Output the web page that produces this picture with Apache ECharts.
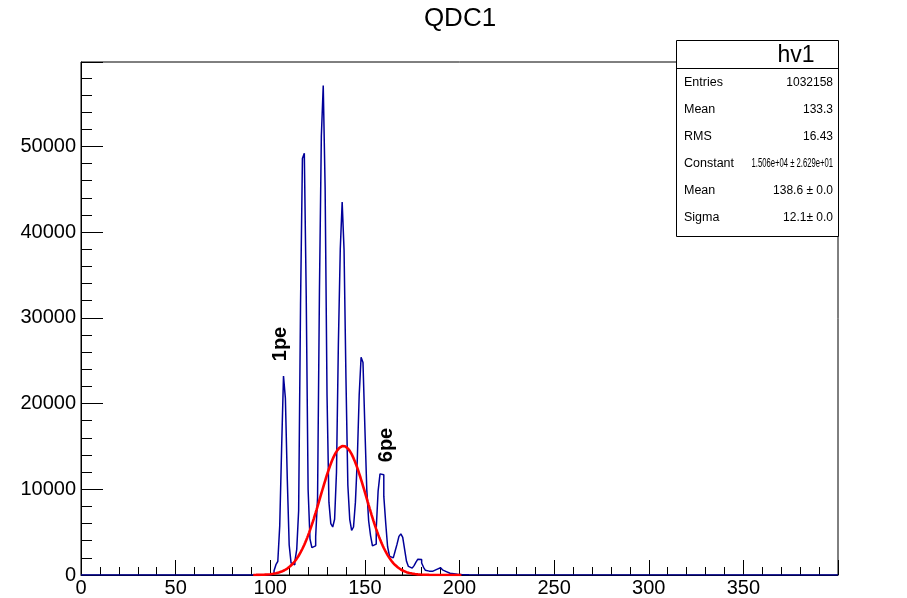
<!DOCTYPE html>
<html><head><meta charset="utf-8">
<script src="https://cdn.jsdelivr.net/npm/echarts@6/dist/echarts.min.js"></script>
<style>html,body{margin:0;padding:0;background:#fff}#c{width:907px;height:598px}</style>
</head><body><div id="c"></div>
<script>
// Histogram QDC1: bin width 1, bins start at binStart
var binStart = 100;
var counts = [
  50, 200, 500, 1200, 1600, 5700, 14700, 23200, 20600, 11200,        // 100-109
  3500, 1400, 1200, 1600, 3000, 7500, 31500, 48600, 49200, 32700,    // 110-119
  10000, 4200, 3200, 3400, 4500, 9000, 33300, 51200, 57100, 45100,   // 120-129
  21000, 8500, 6000, 5600, 6500, 12000, 27000, 38000, 43500, 37900,  // 130-139
  23000, 10500, 6500, 5200, 5600, 8500, 13500, 21000, 25400, 24800,  // 140-149
  17200, 10000, 6300, 4600, 3400, 3600, 5400, 9800, 11800, 11700,    // 150-159
  9200, 6100, 3300, 2200, 2000, 2200, 2800, 3600, 4500, 4800,        // 160-169
  4400, 3000, 1600, 1000, 800, 800, 1100, 1500, 1850, 1800,          // 170-179
  1400, 900, 550, 450, 400, 450, 550, 650, 750, 850,                 // 180-189
  800, 600, 400, 300, 200, 180, 150, 120, 100, 80,                   // 190-199
  60, 50, 40, 30, 20, 10                                             // 200-205
];
var binWidth = 1;
var xTicks = [0, 50, 100, 150, 200, 250, 300, 350];
var yTicks = [0, 10000, 20000, 30000, 40000, 50000];
// Gaussian fit parameters (from stats box)
var fitConstant = 15060, fitMean = 138.6, fitSigma = 12.1;
var fitRange = [91, 201];
var titleText = 'QDC1';
var statsTitle = 'hv1';
var statsLabels = ['Entries', 'Mean', 'RMS', 'Constant', 'Mean', 'Sigma'];
var statsValues = ['1032158', '133.3', '16.43', '1.506e+04 \u00b1 2.629e+01', '138.6 \u00b1 0.0', '12.1\u00b1 0.0'];
var annotations = [{text: '1pe', x: 280, y: 344}, {text: '6pe', x: 386, y: 445}];

// step outline of the histogram (bin edges)
var histData = [[0, 0], [binStart, 0]];
for (var i = 0; i < counts.length; i++) {
  var lo = binStart + i * binWidth;
  histData.push([lo, counts[i]]);
  histData.push([lo + binWidth, counts[i]]);
}
histData.push([binStart + counts.length * binWidth, 0]);
histData.push([400, 0]);

var fitData = [];
for (var x = fitRange[0]; x <= fitRange[1] + 1e-9; x += 0.5) {
  fitData.push([x, fitConstant * Math.exp(-0.5 * Math.pow((x - fitMean) / fitSigma, 2))]);
}

var FONT = '"Liberation Sans", Arial, Helvetica, sans-serif';
var chart = echarts.init(document.getElementById('c'), null, {renderer: 'canvas'});

var graphics = [];
graphics.push({type: 'text', x: 460, y: 19, style: {text: titleText, font: '26px ' + FONT, fill: '#000', align: 'center', verticalAlign: 'middle'}, z: 101});
var bx = 676, by = 40, bw = 162, bh = 196;
graphics.push({type: 'rect', shape: {x: bx + 0.5, y: by + 0.5, width: bw, height: bh}, style: {fill: '#fff', stroke: '#000', lineWidth: 1}, z: 100});
graphics.push({type: 'line', shape: {x1: bx, y1: by + 28.5, x2: bx + bw, y2: by + 28.5}, style: {stroke: '#000', lineWidth: 1}, z: 101});
graphics.push({type: 'text', x: 796, y: by + 16, style: {text: statsTitle, font: '23px ' + FONT, fill: '#000', align: 'center', verticalAlign: 'middle'}, z: 101});
for (var k = 0; k < statsLabels.length; k++) {
  var ry = by + 42.5 + k * 27;
  graphics.push({type: 'text', x: bx + 8, y: ry, style: {text: statsLabels[k], font: '12.5px ' + FONT, fill: '#000', align: 'left', verticalAlign: 'middle'}, z: 101});
  var long = statsValues[k].length > 16;
  graphics.push({type: 'text', x: bx + bw - 5, y: ry, scaleX: long ? 0.64 : 1,
    style: {text: statsValues[k], font: '12px ' + FONT, fill: '#000', align: 'right', verticalAlign: 'middle'}, z: 101});
}
annotations.forEach(function (a) {
  graphics.push({type: 'text', x: a.x, y: a.y, rotation: Math.PI / 2, style: {text: a.text, font: 'bold 20px ' + FONT, fill: '#000', align: 'center', verticalAlign: 'middle'}, z: 50});
});

chart.setOption({
  animation: false,
  backgroundColor: '#fff',
  grid: {left: 81, right: 69, top: 62, bottom: 22, show: true, borderColor: '#000', borderWidth: 1, backgroundColor: 'transparent'},
  xAxis: {
    type: 'value', min: 0, max: 400, interval: 50,
    axisLine: {show: true, onZero: false, lineStyle: {color: '#000', width: 1}},
    axisTick: {show: true, inside: true, length: 15, lineStyle: {color: '#000'}},
    minorTick: {show: true, splitNumber: 5, length: 8, lineStyle: {color: '#000'}},
    splitLine: {show: false},
    axisLabel: {fontFamily: FONT, fontSize: 20, color: '#000', margin: 3, showMaxLabel: false,
      formatter: function (v) { return xTicks.indexOf(v) >= 0 ? String(v) : ''; }}
  },
  yAxis: {
    type: 'value', min: 0, max: 59850, interval: 10000,
    axisLine: {show: true, lineStyle: {color: '#000', width: 1}},
    axisTick: {show: true, inside: true, length: 22, lineStyle: {color: '#000'}},
    minorTick: {show: true, splitNumber: 5, length: 11, lineStyle: {color: '#000'}},
    splitLine: {show: false},
    axisLabel: {fontFamily: FONT, fontSize: 20, color: '#000', margin: 5, showMaxLabel: false,
      formatter: function (v) { return yTicks.indexOf(v) >= 0 ? String(v) : ''; }}
  },
  series: [
    {type: 'line', data: histData, symbol: 'none', lineStyle: {color: '#000099', width: 1.5}, z: 3},
    {type: 'line', data: fitData, smooth: false, symbol: 'none', lineStyle: {color: '#ff0000', width: 2.6}, z: 4}
  ],
  graphic: graphics
});
</script></body></html>
